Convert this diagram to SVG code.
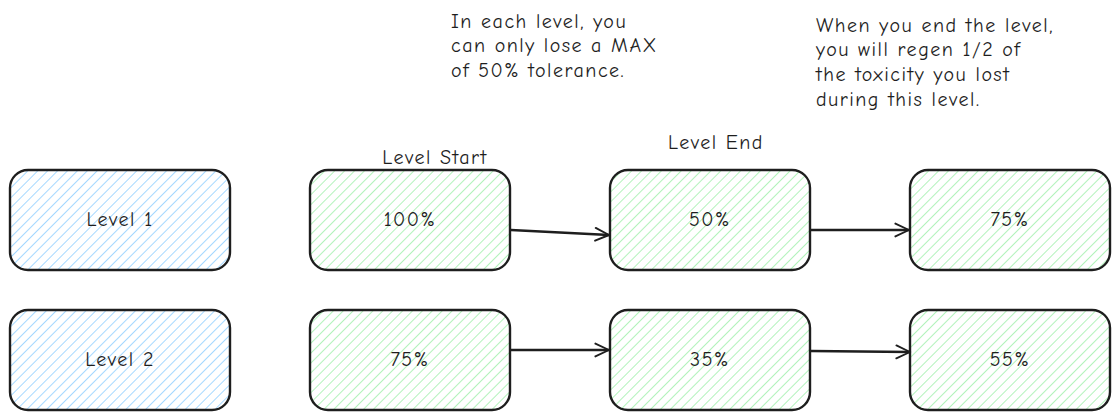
<svg xmlns="http://www.w3.org/2000/svg" width="1120" height="420" viewBox="0 0 1120 420">
<style>
.box{stroke:#1e1e1e;stroke-width:2.4}
.blue{fill:url(#hb)}
.green{fill:url(#hg)}
.t{font-family:"Comic Neue","Liberation Sans",sans-serif;font-size:20px;letter-spacing:1.5px;fill:#1e1e1e;text-anchor:middle;dominant-baseline:central}
.n{font-family:"Comic Neue","Liberation Sans",sans-serif;font-size:20px;letter-spacing:1.5px;fill:#1e1e1e}
.c{stroke:#1e1e1e;stroke-width:2.4;fill:none;stroke-linecap:round;stroke-linejoin:round}
</style>
<defs>
<pattern id="hb" width="7" height="7" patternUnits="userSpaceOnUse" patternTransform="rotate(45)">
<line x1="0" y1="0" x2="0" y2="7" stroke="#a5d8ff" stroke-width="2"/>
</pattern>
<pattern id="hg" width="7" height="7" patternUnits="userSpaceOnUse" patternTransform="rotate(45)">
<line x1="0" y1="0" x2="0" y2="7" stroke="#b2f2bb" stroke-width="2"/>
</pattern>
<marker id="ah" viewBox="0 0 20 20" refX="19" refY="10" markerWidth="16" markerHeight="16" markerUnits="userSpaceOnUse" orient="auto">
<path d="M2,2 L19,10 L2,18" fill="none" stroke="#1e1e1e" stroke-width="2.4" stroke-linecap="round" stroke-linejoin="round"/>
</marker>
</defs>
<rect width="1120" height="420" fill="#ffffff"/>
<g id="note1">
<text class="n" x="451" y="28">In each level, you</text>
<text class="n" x="451" y="52">can only lose a MAX</text>
<text class="n" x="451" y="77">of 50% tolerance.</text>
</g>
<g id="note2">
<text class="n" x="816" y="32">When you end the level,</text>
<text class="n" x="816" y="56">you will regen 1/2 of</text>
<text class="n" x="816" y="81">the toxicity you lost</text>
<text class="n" x="816" y="106">during this level.</text>
</g>
<g id="label-start"><text class="t" x="435" y="157">Level Start</text></g>
<g id="label-end"><text class="t" x="716" y="142">Level End</text></g>
<g id="level1"><rect class="box blue" x="10" y="170" width="220" height="100" rx="18"/><text class="t" x="120" y="219">Level 1</text></g>
<g id="level2"><rect class="box blue" x="10" y="310" width="220" height="100" rx="18"/><text class="t" x="120" y="359">Level 2</text></g>
<g id="l1-start"><rect class="box green" x="310" y="170" width="200" height="100" rx="18"/><text class="t" x="410" y="219">100%</text></g>
<g id="l1-end"><rect class="box green" x="610" y="170" width="200" height="100" rx="18"/><text class="t" x="710" y="219">50%</text></g>
<g id="l1-regen"><rect class="box green" x="910" y="170" width="200" height="100" rx="18"/><text class="t" x="1010" y="219">75%</text></g>
<g id="l2-start"><rect class="box green" x="310" y="310" width="200" height="100" rx="18"/><text class="t" x="410" y="359">75%</text></g>
<g id="l2-end"><rect class="box green" x="610" y="310" width="200" height="100" rx="18"/><text class="t" x="710" y="359">35%</text></g>
<g id="l2-regen"><rect class="box green" x="910" y="310" width="200" height="100" rx="18"/><text class="t" x="1010" y="359">55%</text></g>
<g id="connectors">
<path class="c" d="M511,230 L609,235" marker-end="url(#ah)"/>
<path class="c" d="M811,230 L909,230" marker-end="url(#ah)"/>
<path class="c" d="M511,350 L609,350" marker-end="url(#ah)"/>
<path class="c" d="M811,351 L910,352" marker-end="url(#ah)"/>
</g>
</svg>
